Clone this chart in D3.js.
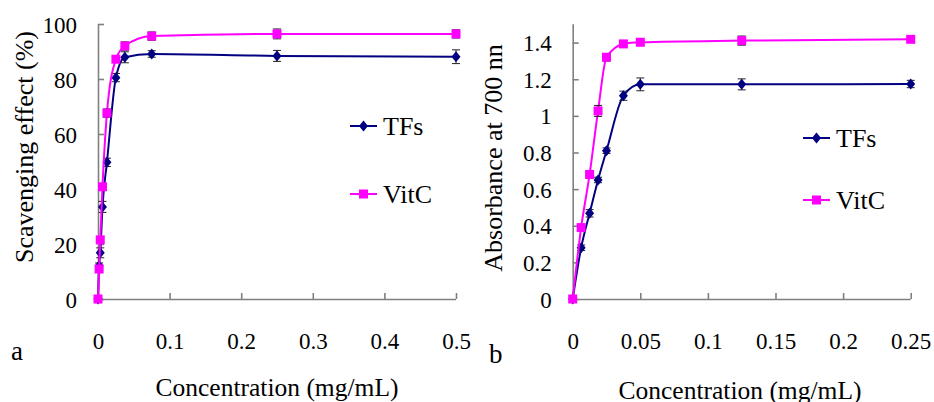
<!DOCTYPE html>
<html><head><meta charset="utf-8">
<script src="https://cdn.jsdelivr.net/npm/d3@7/dist/d3.min.js"></script>
</head><body style="margin:0">
<svg id="c" width="934" height="402" font-family="Liberation Serif"></svg>
<script>
// Panel a: DPPH scavenging effect
const concA = [0, 0.0015625, 0.003125, 0.00625, 0.0125, 0.025, 0.0375, 0.075, 0.25, 0.5];
const tfsA = [0, 12.1, 16.8, 33.5, 49.7, 80.5, 87.9, 89.1, 88.4, 88.1];
const tfsAErr = [0, 1, 1.8, 2, 1.5, 1.5, 2, 1.2, 2, 2.5];
const vitcA = [0, 10.9, 21.5, 40.8, 67.6, 87.2, 92.0, 95.6, 96.4, 96.4];
const vitcAErr = [0, 0.5, 1, 1, 1.5, 1, 1.5, 1.5, 1.8, 1.5];
const xTicksA = [0, 0.1, 0.2, 0.3, 0.4, 0.5];
const yTicksA = [0, 20, 40, 60, 80, 100];

// Panel b: reducing power
const concB = [0, 0.00625, 0.0125, 0.01875, 0.025, 0.0375, 0.05, 0.125, 0.25];
const tfsB = [0, 0.28, 0.468, 0.65, 0.81, 1.11, 1.172, 1.172, 1.174];
const tfsBErr = [0, 0.015, 0.02, 0.015, 0.015, 0.025, 0.035, 0.03, 0.02];
const vitcB = [0, 0.39, 0.68, 1.027, 1.32, 1.393, 1.402, 1.411, 1.418];
const vitcBErr = [0, 0.01, 0.01, 0.03, 0.02, 0.01, 0.01, 0.025, 0.01];
const xTicksB = [0, 0.05, 0.1, 0.15, 0.2, 0.25];
const yTicksB = [0, 0.2, 0.4, 0.6, 0.8, 1, 1.2, 1.4];

const svg = d3.select("#c");
const NAVY = "#000080", MAG = "#ff00ff", AX = "#808080";
const txt = (sel, size) => sel.style("font-family", '"Liberation Serif"').attr("font-family", "Liberation Serif").attr("font-size", size).attr("fill", "#000");

function panel(o) {
  const g = svg.append("g");
  const x = d3.scaleLinear().domain(o.xd).range([o.x0, o.x1]);
  const y = d3.scaleLinear().domain(o.yd).range([o.y0, o.y1]);
  const ya = d3.axisLeft(y).tickValues(o.yt).tickSize(-6).tickPadding(21).tickFormat(d3.format("~g"));
  const gy = g.append("g").attr("transform", `translate(${o.x0},0)`).call(ya);
  const xa = d3.axisBottom(x).tickValues(o.xt).tickSize(-6).tickPadding(34).tickFormat(d3.format("~g"));
  const gx = g.append("g").attr("transform", `translate(0,${o.y0})`).call(xa);
  [gx, gy].forEach(a => {
    a.attr("font-family", "Liberation Serif").attr("font-size", 23);
    a.select(".domain").attr("stroke", AX).attr("stroke-width", 1.6);
    a.selectAll(".tick line").attr("stroke", AX).attr("stroke-width", 1.6);
    txt(a.selectAll(".tick text"), 23);
  });
  gy.selectAll(".tick text").attr("dy", "0.35em");
  gx.selectAll(".tick text").attr("dy", "0.71em");
  gy.select(".domain").attr("d", `M0.5,${o.y0}V${o.y1}`);
  gx.select(".domain").attr("d", `M${o.x0},0.5H${o.x1}`);

  const line = d3.line().x(d => x(d[0])).y(d => y(d[1])).curve(d3.curveMonotoneX);
  o.series.forEach(s => {
    const pts = o.conc.map((c, i) => [c, s.v[i], s.e[i]]);
    g.append("path").attr("d", line(pts)).attr("fill", "none").attr("stroke", s.c).attr("stroke-width", 2);
    pts.forEach(p => {
      if (!p[2]) return;
      const px = x(p[0]), yt = y(p[1] + p[2]), yb = y(p[1] - p[2]);
      g.append("path").attr("d", `M${px},${yt}V${yb}M${px - 4},${yt}H${px + 4}M${px - 4},${yb}H${px + 4}`)
        .attr("stroke", "#222").attr("stroke-width", 1).attr("fill", "none");
    });
    pts.forEach(p => {
      g.append("path").attr("transform", `translate(${x(p[0])},${y(p[1])})`)
        .attr("d", s.shape).attr("fill", s.c);
    });
  });
  o.series.forEach((s, i) => {
    const ly = o.ly[i];
    g.append("line").attr("x1", o.lx).attr("x2", o.lx + 27).attr("y1", ly).attr("y2", ly).attr("stroke", s.c).attr("stroke-width", 2);
    g.append("path").attr("transform", `translate(${o.lx + 13.5},${ly})`).attr("d", s.shape).attr("fill", s.c);
    txt(g.append("text").attr("x", o.lx + 33).attr("y", ly + 9), 26).text(s.name);
  });
  txt(g.append("text").attr("transform", `translate(${o.ytx},${o.yty}) rotate(-90)`).attr("text-anchor", "middle"), 26).text(o.ytitle);
  txt(g.append("text").attr("x", o.xtx).attr("y", o.xty).attr("text-anchor", "middle"), 25.5).text("Concentration (mg/mL)");
  txt(g.append("text").attr("x", o.lbx).attr("y", o.lby), 27).text(o.label);
}

const diamond = "M0,-5.5L4.5,0L0,5.5L-4.5,0Z";
const square = "M-4.5,-4.5H4.5V4.5H-4.5Z";

panel({
  xd: [0, 0.5], yd: [0, 100], x0: 98, x1: 456, y0: 299, y1: 24,
  xt: xTicksA, yt: yTicksA, conc: concA,
  series: [
    {name: "TFs", v: tfsA, e: tfsAErr, c: NAVY, shape: diamond},
    {name: "VitC", v: vitcA, e: vitcAErr, c: MAG, shape: square}
  ],
  lx: 350, ly: [126, 194],
  ytitle: "Scavenging effect (%)", ytx: 33, yty: 147,
  xtx: 277, xty: 396, label: "a", lbx: 11, lby: 360
});

panel({
  xd: [0, 0.25], yd: [0, 1.5], x0: 572.7, x1: 910.7, y0: 299, y1: 24.3,
  xt: xTicksB, yt: yTicksB, conc: concB,
  series: [
    {name: "TFs", v: tfsB, e: tfsBErr, c: NAVY, shape: diamond},
    {name: "VitC", v: vitcB, e: vitcBErr, c: MAG, shape: square}
  ],
  lx: 803, ly: [138, 200],
  ytitle: "Absorbance at 700 nn", ytx: 502, yty: 158,
  xtx: 740, xty: 399, label: "b", lbx: 489, lby: 363
});
</script>
</body></html>
